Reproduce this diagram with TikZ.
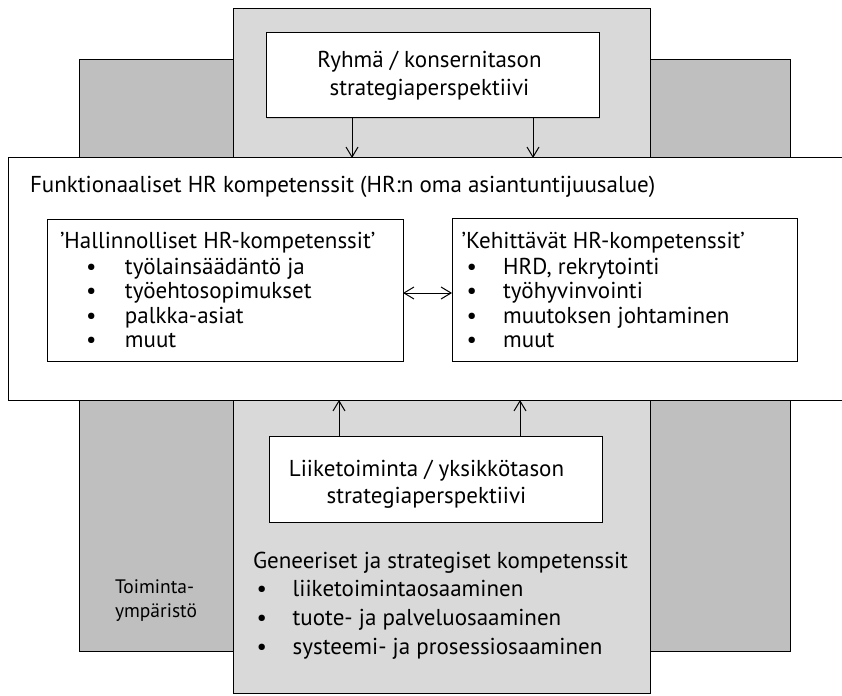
\documentclass[tikz,border=0pt]{standalone}
\usepackage{fontspec}
\setmainfont{PT Sans}
\usetikzlibrary{arrows.meta,shadows}
\definecolor{envgray}{HTML}{BFBFBF}
\definecolor{coregray}{HTML}{D9D9D9}
% bullet placed #1 from the left margin, item text starting #2 after the bullet
\newcommand\bulrow[2]{\hspace*{#1}\makebox[#2][l]{\textbullet}}
\begin{document}
\begin{tikzpicture}[x=1pt,y=-1pt,
  panel/.style={draw=black, line width=1pt, inner sep=0pt, outer sep=0pt,
    anchor=north west,
    drop shadow={shadow xshift=1.3pt, shadow yshift=-1.3pt, opacity=0.3}},
  txt/.style={inner sep=0pt, outer sep=0pt, anchor=base west},
  tip/.tip={Straight Barb[length=10pt,width=12pt,line width=1pt]},
  arr/.style={line width=1pt, -tip},
  dblarr/.style={line width=1pt, tip-tip},
  bigfont/.style={font=\fontsize{23}{24.5}\selectfont},
  smallfont/.style={font=\fontsize{19.5}{24}\selectfont}]
\clip (0,0) rectangle (842,695);

% background layers
\node[panel, fill=envgray, minimum width=711pt, minimum height=591pt] (env) at (79,60) {};
\node[panel, fill=coregray, minimum width=417pt, minimum height=684pt] (core) at (233,9) {};

% boxes
\node[panel, fill=white, minimum width=333pt, minimum height=85pt] (top) at (266,33) {};
\node[panel, fill=white, minimum width=845pt, minimum height=242pt] (big) at (8,158) {};
\node[panel, fill=white, minimum width=356pt, minimum height=142pt] (left) at (47,219) {};
\node[panel, fill=white, minimum width=345pt, minimum height=143pt] (right) at (452,218) {};
\node[panel, fill=white, minimum width=333pt, minimum height=86pt] (bottom) at (269,436) {};

% connector positions
\coordinate (xa) at (352,0);
\coordinate (xb) at (533,0);
\coordinate (xc) at (339,0);
\coordinate (xd) at (520,0);
\coordinate (ya) at (0,293);

\draw[arr] (top.south -| xa) -- (big.north -| xa);
\draw[arr] (top.south -| xb) -- (big.north -| xb);
\draw[arr] (bottom.north -| xc) -- (big.south -| xc);
\draw[arr] (bottom.north -| xd) -- (big.south -| xd);
\draw[dblarr] (left.east |- ya) -- (right.west |- ya);

% texts
\node[txt, anchor=base, font=\fontsize{23}{28}\selectfont] (ttop) at (429.5,68)
  {\begin{tabular}[t]{@{}c@{}}Ryhmä / konsernitason\\strategiaperspektiivi\end{tabular}};
\node[txt, bigfont] (tbig) at (30,192.3)
  {Funktionaaliset HR kompetenssit (HR:n oma asiantuntijuusalue)};
\node[txt, bigfont] (tleft) at (60,248)
  {\begin{tabular}[t]{@{}l@{}}’Hallinnolliset HR-kompetenssit’\\[1.5pt]
   \bulrow{26pt}{39pt}työlainsäädäntö ja\\
   \bulrow{26pt}{39pt}työehtosopimukset\\
   \bulrow{26pt}{39pt}palkka-asiat\\
   \bulrow{26pt}{39pt}muut\end{tabular}};
\node[txt, bigfont] (tright) at (461.7,248)
  {\begin{tabular}[t]{@{}l@{}}’Kehittävät HR-kompetenssit’\\[1.5pt]
   \bulrow{5pt}{36.5pt}HRD, rekrytointi\\
   \bulrow{5pt}{36.5pt}työhyvinvointi\\
   \bulrow{5pt}{36.5pt}muutoksen johtaminen\\
   \bulrow{5pt}{36.5pt}muut\end{tabular}};
\node[txt, anchor=base, font=\fontsize{23}{26.5}\selectfont] (tbottom) at (426.5,476.7)
  {\begin{tabular}[t]{@{}c@{}}Liiketoiminta / yksikkötason\\strategiaperspektiivi\end{tabular}};
\node[txt, font=\fontsize{23}{28.7}\selectfont] (tgen) at (253,568)
  {\begin{tabular}[t]{@{}l@{}}Geneeriset ja strategiset kompetenssit\\
   \bulrow{3.7pt}{36pt}liiketoimintaosaaminen\\
   \bulrow{3.7pt}{36pt}tuote- ja palveluosaaminen\\
   \bulrow{3.7pt}{36pt}systeemi- ja prosessiosaaminen\end{tabular}};
\node[txt, smallfont] (tenv) at (115,593.3)
  {\begin{tabular}[t]{@{}l@{}}Toiminta-\\ympäristö\end{tabular}};
\end{tikzpicture}
\end{document}
